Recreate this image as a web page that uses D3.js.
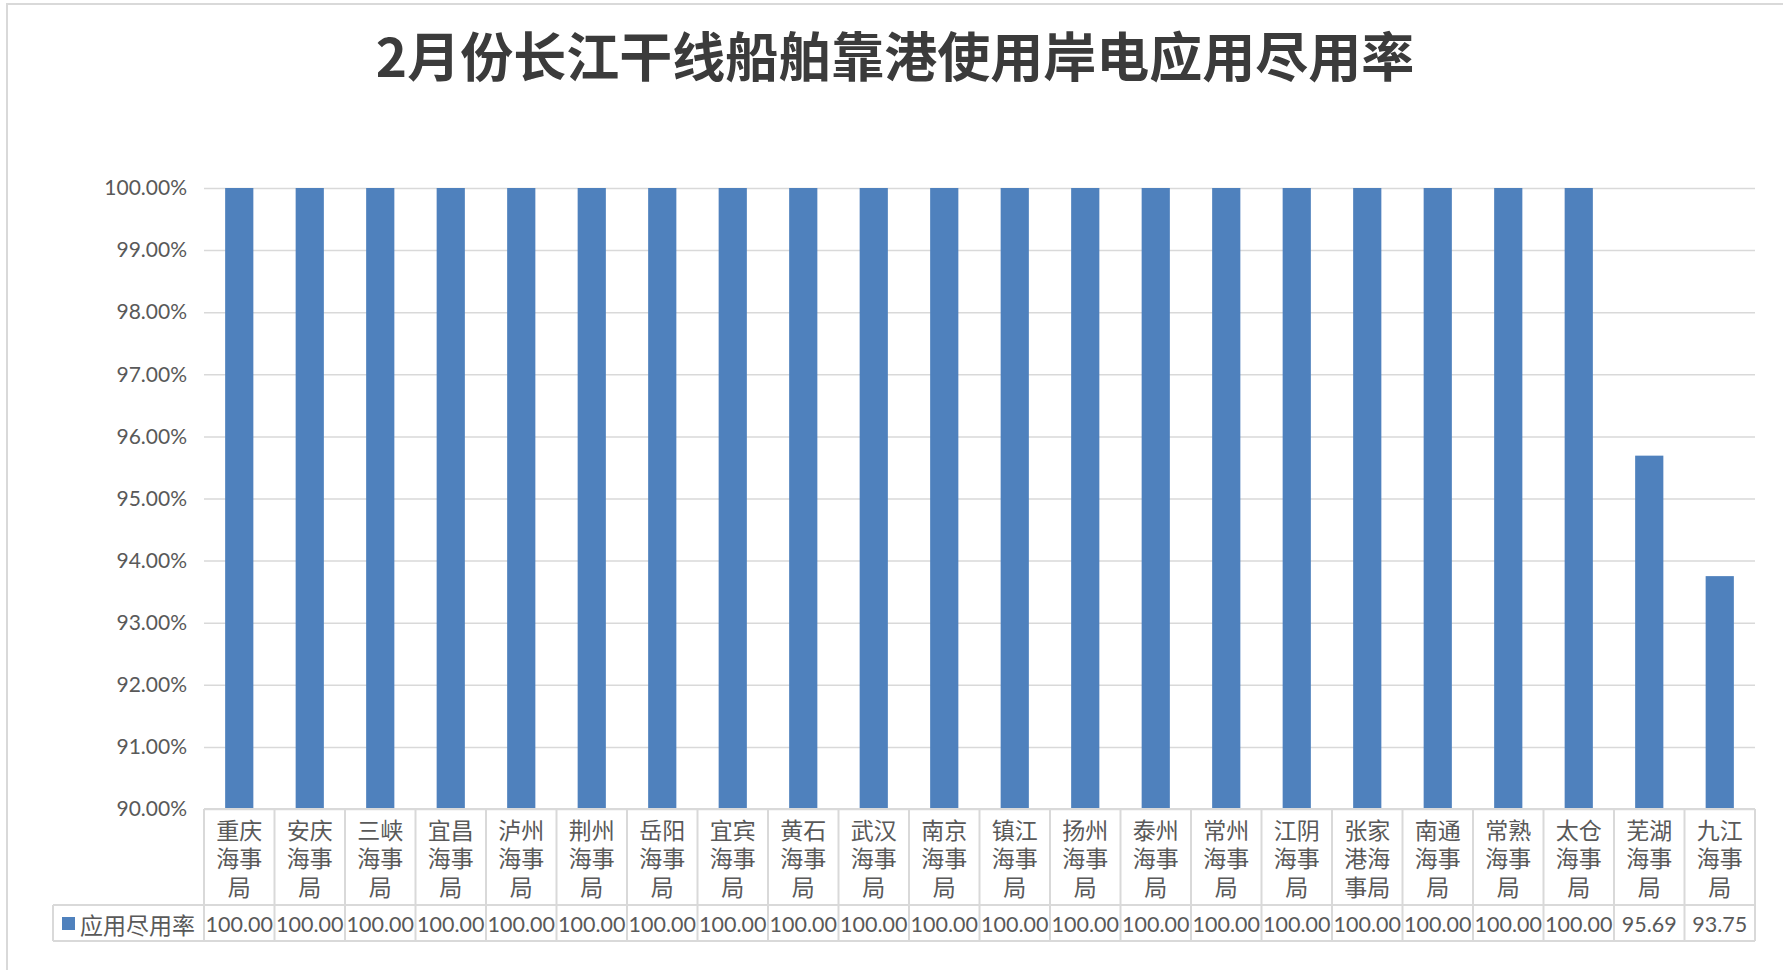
<!DOCTYPE html>
<html>
<head>
<meta charset="utf-8">
<script src="https://cdn.jsdelivr.net/npm/d3@7"></script>
<style>
  html, body { margin: 0; padding: 0; background: #fff; }
  svg { display: block; }
</style>
</head>
<body>
<svg id="chart" width="1783" height="970"></svg>
<script>
// ---- data ----
var title = "2月份长江干线船舶靠港使用岸电应用尽用率";
var seriesName = "应用尽用率";
var categories = ["重庆海事局", "安庆海事局", "三峡海事局", "宜昌海事局", "泸州海事局", "荆州海事局",
                  "岳阳海事局", "宜宾海事局", "黄石海事局", "武汉海事局", "南京海事局", "镇江海事局",
                  "扬州海事局", "泰州海事局", "常州海事局", "江阴海事局", "张家港海事局", "南通海事局",
                  "常熟海事局", "太仓海事局", "芜湖海事局", "九江海事局"];
var values = [100, 100, 100, 100, 100, 100, 100, 100, 100, 100, 100,
              100, 100, 100, 100, 100, 100, 100, 100, 100, 95.69, 93.75];
var yTicks = [90, 91, 92, 93, 94, 95, 96, 97, 98, 99, 100];

// ---- layout ----
var svg = d3.select('#chart');
var plot = {left: 204, right: 1755, top: 188, bottom: 809},
    table = {legendLeft: 53, labelBottom: 905, bottom: 941};
var barColor = '#4F81BD', gridColor = '#d9d9d9', textColor = '#595959';
var numFont = 'Lato, "Liberation Sans", sans-serif',
    cjkFont = '"Noto Sans CJK SC", "Noto Sans", sans-serif';

// chart area border (only top/left visible)
svg.append('rect')
    .attr('x', 7).attr('y', 4)
    .attr('width', 1800).attr('height', 1000)
    .attr('fill', 'none')
    .attr('stroke', '#d9d9d9')
    .attr('stroke-width', 2);

// title
svg.append('text')
    .attr('x', 895).attr('y', 54)
    .attr('text-anchor', 'middle')
    .attr('dominant-baseline', 'central')
    .style('font-family', cjkFont)
    .style('font-weight', 'bold')
    .style('font-size', '53px')
    .style('fill', '#3b3b3b')
    .text(title);

// scales
var x = d3.scaleBand()
    .domain(categories)
    .range([plot.left, plot.right])
    .paddingInner(0.6)
    .paddingOuter(0.3);

var y = d3.scaleLinear()
    .domain([90, 100])
    .range([plot.bottom, plot.top]);

// gridlines + y labels
var yAxis = svg.append('g')
    .attr('transform', `translate(${plot.left}, 0)`)
    .call(d3.axisLeft(y)
            .tickValues(yTicks)
            .tickSize(-(plot.right - plot.left))
            .tickPadding(17)
            .tickFormat(function(d) { return d.toFixed(2) + '%'; }));

yAxis.select('.domain').remove();
yAxis.selectAll('.tick line')
    .attr('stroke', gridColor)
    .attr('stroke-width', 1.5);
yAxis.selectAll('.tick text')
    .style('font-family', numFont)
    .style('font-size', '21px')
    .style('fill', textColor);

// bars
svg.append('g').selectAll('rect')
    .data(values)
    .enter().append('rect')
    .attr('x', function(d, i) { return x(categories[i]); })
    .attr('y', function(d) { return y(d); })
    .attr('width', x.bandwidth())
    .attr('height', function(d) { return y(90) - y(d); })
    .attr('fill', barColor);

// ---- data table ----
var step = x.step();
function cellLeft(i) { return x(categories[i]) + x.bandwidth() / 2 - step / 2; }

var tbl = svg.append('g').attr('stroke', gridColor).attr('stroke-width', 2);

// horizontal rules
tbl.append('line').attr('x1', plot.left).attr('x2', plot.right).attr('y1', plot.bottom).attr('y2', plot.bottom);
tbl.append('line').attr('x1', table.legendLeft).attr('x2', plot.right).attr('y1', table.labelBottom).attr('y2', table.labelBottom);
tbl.append('line').attr('x1', table.legendLeft).attr('x2', plot.right).attr('y1', table.bottom).attr('y2', table.bottom);
tbl.append('line').attr('x1', table.legendLeft).attr('x2', table.legendLeft).attr('y1', table.labelBottom).attr('y2', table.bottom);

// vertical rules
for (var i = 0; i <= categories.length; i++) {
    var xx = i < categories.length ? cellLeft(i) : cellLeft(i - 1) + step;
    tbl.append('line')
        .attr('x1', xx).attr('x2', xx)
        .attr('y1', plot.bottom).attr('y2', table.bottom);
}

// category labels, wrapped two characters per line
var lineY = [828.5, 857, 885.5];
categories.forEach(function(c, i) {
    var lines = c.match(/.{1,2}/g);
    var t = svg.append('text')
        .attr('text-anchor', 'middle')
        .style('font-family', cjkFont)
        .style('font-size', '23px')
        .style('fill', textColor);
    lines.forEach(function(ln, k) {
        t.append('tspan')
            .attr('x', x(c) + x.bandwidth() / 2)
            .attr('y', lineY[k])
            .attr('dominant-baseline', 'central')
            .text(ln);
    });
});

// values row
var rowMid = (table.labelBottom + table.bottom) / 2 + 1;
svg.append('g').selectAll('text')
    .data(values)
    .enter().append('text')
    .attr('x', function(d, i) { return x(categories[i]) + x.bandwidth() / 2; })
    .attr('y', rowMid)
    .attr('text-anchor', 'middle')
    .attr('dominant-baseline', 'central')
    .style('font-family', numFont)
    .style('font-size', '21.5px')
    .style('fill', textColor)
    .text(function(d) { return d.toFixed(2); });

// legend key in the table
svg.append('rect')
    .attr('x', 62).attr('y', rowMid - 7)
    .attr('width', 13).attr('height', 13)
    .attr('fill', barColor);
svg.append('text')
    .attr('x', 80).attr('y', rowMid)
    .attr('dominant-baseline', 'central')
    .style('font-family', cjkFont)
    .style('font-size', '23px')
    .style('fill', textColor)
    .text(seriesName);
</script>
</body>
</html>
